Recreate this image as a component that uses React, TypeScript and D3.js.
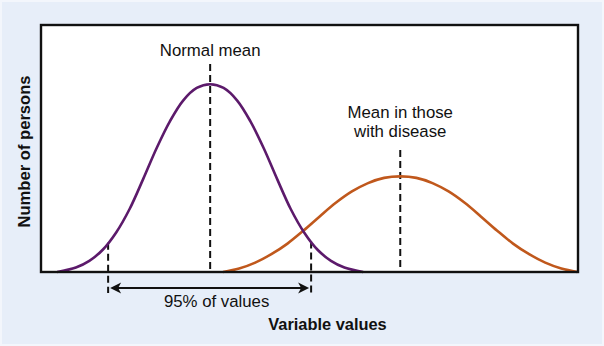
import React from "react";
import * as d3 from "d3";

// Curve of the normal population (variable value, number of persons)
const normalX = [3, 6.5, 9, 11.5, 14, 16.5, 19, 21.5, 24, 26.5, 29, 31.5, 34, 36.5, 39, 41.5, 44, 46.5, 49, 51.5, 54, 56.5, 60];
const normalY = [0, 1.8, 4.5, 9, 16, 25.5, 37.5, 50, 61, 69.5, 74.5, 76, 74.5, 69.5, 61, 50, 37.5, 25.5, 16, 9, 4.5, 1.8, 0];

// Curve of the population with disease
const diseaseX = [33.9, 36.9, 39.9, 42.9, 45.9, 48.9, 51.9, 54.9, 57.9, 60.9, 63.9, 66.9, 69.9, 72.9, 75.9, 78.9, 81.9, 84.9, 87.9, 90.9, 93.9, 96.9, 99.9];
const diseaseY = [0, 1.4, 3.8, 7.2, 11.5, 16.8, 22.5, 28, 32.6, 36, 38.1, 38.7, 38.1, 36, 32.6, 28, 22.5, 16.8, 11.5, 7.2, 3.8, 1.4, 0];

// Annotations
const meanValues = [31.5, 66.9];
const meanLineTops = [84.2, 49.4];
const meanLabels = [["Normal mean"], ["Mean in those", "with disease"]];
const rangeBounds = [12.5, 50.3];
const rangeLabel = "95% of values";
const xTitle = "Variable values";
const yTitle = "Number of persons";

const W = 604;
const H = 346;
const left = 41, right = 578, top = 25, bottom = 272;
const FONT = "'Liberation Sans', Arial, Helvetica, sans-serif";
const PURPLE = "#5c1a6b";
const ORANGE = "#c0581c";

function interp(xs: number[], ys: number[], v: number) {
  const i = Math.max(1, Math.min(xs.length - 1, d3.bisectLeft(xs, v)));
  const t = (v - xs[i - 1]) / (xs[i] - xs[i - 1]);
  return ys[i - 1] + t * (ys[i] - ys[i - 1]);
}

export default function App() {
  const x = d3.scaleLinear().domain([0, 100]).range([left, right]);
  const y = d3.scaleLinear().domain([0, 100]).range([bottom, top]);
  const line = d3
    .line<[number, number]>()
    .x((d) => x(d[0]))
    .y((d) => y(d[1]))
    .curve(d3.curveCatmullRom.alpha(0.5));

  const normalPath = line(normalX.map((v, i) => [v, normalY[i]]) as [number, number][]) || "";
  const diseasePath = line(diseaseX.map((v, i) => [v, diseaseY[i]]) as [number, number][]) || "";

  const arrowY = bottom + 16;
  const rangeBottom = bottom + 21;
  const xa = x(rangeBounds[0]);
  const xb = x(rangeBounds[1]);
  const labelGaps = [8, 13];

  return (
    <svg
      width={W}
      height={H}
      style={{ position: "absolute", left: 0, top: 0, display: "block" }}
      fontFamily={FONT}
    >
      <rect x={0} y={0} width={W} height={H} fill="#f3f6fc" />
      <rect x={2} y={2} width={W - 4} height={H - 4} fill="#e7eef9" />
      <rect x={left} y={top} width={right - left} height={bottom - top} fill="#ffffff" />

      {/* mean lines */}
      {meanValues.map((m, i) => (
        <line
          key={"m" + i}
          x1={x(m)}
          x2={x(m)}
          y1={y(meanLineTops[i])}
          y2={bottom}
          stroke="#111"
          strokeWidth={2}
          strokeDasharray="7,4"
        />
      ))}
      {/* 95% range lines */}
      {rangeBounds.map((b, i) => (
        <line
          key={"r" + i}
          x1={x(b)}
          x2={x(b)}
          y1={y(interp(normalX, normalY, b))}
          y2={rangeBottom}
          stroke="#111"
          strokeWidth={2}
          strokeDasharray="7,4"
        />
      ))}

      <path d={diseasePath} fill="none" stroke={ORANGE} strokeWidth={2.6} />
      <path d={normalPath} fill="none" stroke={PURPLE} strokeWidth={2.6} />

      <rect
        x={left}
        y={top}
        width={right - left}
        height={bottom - top}
        fill="none"
        stroke="#111"
        strokeWidth={2.4}
      />

      {/* arrow */}
      <line x1={xa + 8} x2={xb - 8} y1={arrowY} y2={arrowY} stroke="#111" strokeWidth={2} />
      <path
        d={`M${xa + 2},${arrowY} L${xa + 13},${arrowY - 5.5} L${xa + 10},${arrowY} L${xa + 13},${arrowY + 5.5} Z`}
        fill="#111"
      />
      <path
        d={`M${xb - 2},${arrowY} L${xb - 13},${arrowY - 5.5} L${xb - 10},${arrowY} L${xb - 13},${arrowY + 5.5} Z`}
        fill="#111"
      />

      {/* labels */}
      {meanValues.map((m, i) => {
        const lines = meanLabels[i];
        const lastBase = y(meanLineTops[i]) - labelGaps[i];
        return (
          <text key={"l" + i} x={x(m)} textAnchor="middle" fontSize={16.8} fill="#111">
            {lines.map((t, j) => (
              <tspan key={j} x={x(m)} y={lastBase - (lines.length - 1 - j) * 19}>
                {t}
              </tspan>
            ))}
          </text>
        );
      })}

      <text x={(xa + xb) / 2 + 7} y={bottom + 35} textAnchor="middle" fontSize={16.8} fill="#111">
        {rangeLabel}
      </text>
      <text
        x={(left + right) / 2 + 18}
        y={bottom + 58}
        textAnchor="middle"
        fontSize={16.4}
        fontWeight="bold"
        fill="#111"
      >
        {xTitle}
      </text>
      <text
        transform={`translate(30,${(top + bottom) / 2 + 3}) rotate(-90)`}
        textAnchor="middle"
        fontSize={16.6}
        fontWeight="bold"
        fill="#111"
      >
        {yTitle}
      </text>
    </svg>
  );
}
